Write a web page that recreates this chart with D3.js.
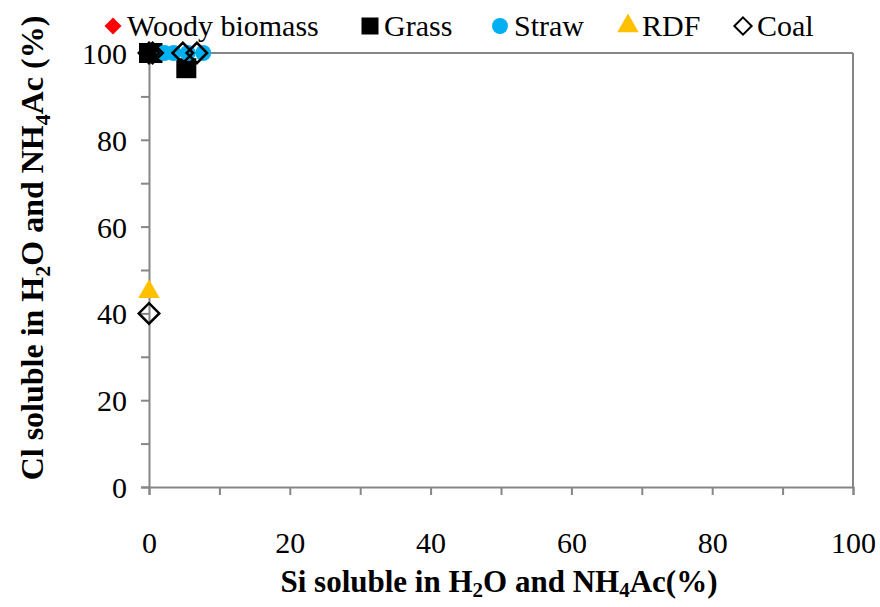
<!DOCTYPE html>
<html>
<head>
<meta charset="utf-8">
<script src="https://cdn.jsdelivr.net/npm/d3@7"></script>
</head>
<body style="margin:0">
<svg id="chart" width="880" height="607"></svg>
<script>
// data (x = Si soluble %, y = Cl soluble %)
var woodyX = [0, 0.3];
var woodyY = [100, 100];
var grassX = [0, 0.5, 5.3];
var grassY = [100, 100, 96.5];
var strawX = [2.2, 3.5, 5.5, 7.7];
var strawY = [100, 100, 100, 100];
var rdfX = [0];
var rdfY = [45];
var coalX = [0, 0.5, 4.8, 6.8, 0];
var coalY = [100, 100, 100, 100, 40];
var tickValues = [0, 20, 40, 60, 80, 100];

var serif = "Liberation Serif";

// square-ish diamond (d3's diamond is too tall)
var diamond = {
  draw: function(context, size) {
    var r = Math.sqrt(size) / 2;
    context.moveTo(0, -r);
    context.lineTo(r, 0);
    context.lineTo(0, r);
    context.lineTo(-r, 0);
    context.closePath();
  }
};

var series = [
  { name: "Woody biomass", xs: woodyX, ys: woodyY, shape: diamond, size: 400, lsize: 289, fill: "#ff0000", stroke: "none" },
  { name: "Grass", xs: grassX, ys: grassY, shape: d3.symbolSquare, size: 400, lsize: 289, fill: "#000000", stroke: "none" },
  { name: "Straw", xs: strawX, ys: strawY, shape: d3.symbolCircle, size: 200, lsize: 200, fill: "#00b0f0", stroke: "none" },
  { name: "RDF", xs: rdfX, ys: rdfY, shape: d3.symbolTriangle, size: 200, lsize: 200, fill: "#ffc000", stroke: "none" },
  { name: "Coal", xs: coalX, ys: coalY, shape: diamond, size: 420, lsize: 300, fill: "none", stroke: "#000000" }
];

var svg = d3.select("#chart");
var margin = { left: 149, right: 27, top: 53, bottom: 120 };
var width = 880, height = 607;
var axisColor = "#868686";

var x = d3.scaleLinear().domain([0, 100]).range([margin.left, width - margin.right]);
var y = d3.scaleLinear().domain([0, 100]).range([height - margin.bottom, margin.top]);

// plot border (top + right)
svg.append("line")
   .attr("x1", x(0)).attr("x2", x(100))
   .attr("y1", y(100)).attr("y2", y(100))
   .attr("stroke", axisColor).attr("stroke-width", 2);
svg.append("line")
   .attr("x1", x(100)).attr("x2", x(100))
   .attr("y1", y(100)).attr("y2", y(0))
   .attr("stroke", axisColor).attr("stroke-width", 2);

// x axis
var xAxis = svg.append("g")
   .attr("transform", "translate(0," + y(0) + ")")
   .call(d3.axisBottom(x).tickValues(d3.range(0, 101, 10)).tickSize(8).tickFormat(function(d) {
     return tickValues.indexOf(d) >= 0 ? d : "";
   }));
// y axis
var yAxis = svg.append("g")
   .attr("transform", "translate(" + x(0) + ",0)")
   .call(d3.axisLeft(y).tickValues(d3.range(0, 101, 10)).tickSize(8).tickFormat(function(d) {
     return tickValues.indexOf(d) >= 0 ? d : "";
   }));

[xAxis, yAxis].forEach(function(g) {
  g.select(".domain").attr("stroke", axisColor).attr("stroke-width", 2);
  g.selectAll(".tick line").attr("stroke", axisColor).attr("stroke-width", 2);
  g.selectAll(".tick text")
   .attr("fill", "#000")
   .attr("font-family", serif)
   .attr("font-size", 30);
});
xAxis.selectAll(".tick text").attr("dy", "0").attr("y", 66);
yAxis.selectAll(".tick text").attr("x", -22).attr("dy", "0.35em");

// points
series.forEach(function(s) {
  var pts = s.xs.map(function(v, i) { return [v, s.ys[i]]; });
  svg.append("g").selectAll("path")
     .data(pts)
     .enter()
     .append("path")
     .attr("transform", function(d) { return "translate(" + x(d[0]) + "," + y(d[1]) + ")"; })
     .attr("d", d3.symbol().type(s.shape).size(s.size))
     .attr("fill", s.fill)
     .attr("stroke", s.stroke)
     .attr("stroke-width", 2.5);
});

// legend
var legendX = [113, 370, 500, 628, 743];
var legend = svg.append("g");
series.forEach(function(s, i) {
  legend.append("path")
     .attr("transform", "translate(" + legendX[i] + ",26)")
     .attr("d", d3.symbol().type(s.shape).size(s.lsize))
     .attr("fill", s.fill)
     .attr("stroke", s.stroke)
     .attr("stroke-width", 2);
  legend.append("text")
     .attr("x", legendX[i] + 14)
     .attr("y", 36)
     .attr("font-family", serif)
     .attr("font-size", 30)
     .text(s.name);
});

// axis titles
var xTitle = svg.append("text")
   .attr("x", 499).attr("y", 592)
   .attr("text-anchor", "middle")
   .attr("font-family", serif)
   .attr("font-size", 31).attr("font-weight", "bold");
xTitle.append("tspan").text("Si soluble in H");
xTitle.append("tspan").attr("dy", 5).attr("font-size", 21).text("2");
xTitle.append("tspan").attr("dy", -5).text("O and NH");
xTitle.append("tspan").attr("dy", 5).attr("font-size", 21).text("4");
xTitle.append("tspan").attr("dy", -5).text("Ac(%)");

var yTitle = svg.append("text")
   .attr("transform", "translate(43,248) rotate(-90)")
   .attr("text-anchor", "middle")
   .attr("font-family", serif)
   .attr("font-size", 32).attr("font-weight", "bold");
yTitle.append("tspan").text("Cl soluble in H");
yTitle.append("tspan").attr("dy", 7).attr("font-size", 22).text("2");
yTitle.append("tspan").attr("dy", -7).text("O and NH");
yTitle.append("tspan").attr("dy", 7).attr("font-size", 22).text("4");
yTitle.append("tspan").attr("dy", -7).text("Ac (%)");
</script>
</body>
</html>
